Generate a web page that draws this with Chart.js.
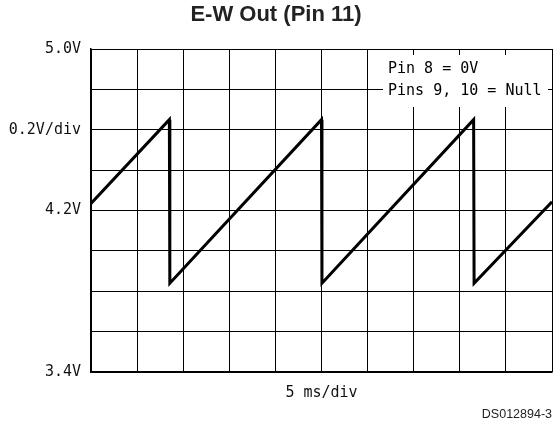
<!DOCTYPE html>
<html>
<head>
<meta charset="utf-8">
<script src="https://cdn.jsdelivr.net/npm/chart.js@4/dist/chart.umd.min.js"></script>
<style>
  html, body { margin: 0; padding: 0; background: #fff; }
  #wrap { width: 557px; height: 427px; }
</style>
</head>
<body>
<div id="wrap"><canvas id="myChart"></canvas></div>
<script>
// time in ms (5 ms/div), voltage in V (0.2 V/div)
var timeMs = [0, 8.5, 8.55, 25.0, 25.05, 41.5, 41.55, 50];
var volts  = [4.235, 4.65, 3.84, 4.65, 3.84, 4.65, 3.84, 4.243];

var yTickValues = [5.0, 4.6, 4.2, 3.4];
var yTickLabels = ['5.0V', '0.2V/div', '4.2V', '3.4V'];

var noteLines = ['Pin 8 = 0V', 'Pins 9, 10 = Null'];

var points = [];
for (var i = 0; i < timeMs.length; i++) {
    points.push({x: timeMs[i], y: volts[i]});
}

var scopeFont = "'DejaVu Sans Mono', monospace";

// white note box in the upper right of the grid
var notePlugin = {
    id: 'note',
    beforeDatasetsDraw: function(chart) {
        var ctx = chart.ctx;
        var a = chart.chartArea;
        ctx.save();
        ctx.fillStyle = '#fff';
        ctx.fillRect(a.right - 169, a.top + 6, 165, 52);
        ctx.fillStyle = '#000';
        ctx.font = '15px ' + scopeFont;
        ctx.textBaseline = 'middle';
        ctx.textAlign = 'left';
        ctx.fillText(noteLines[0], a.right - 164, a.top + 20);
        ctx.fillText(noteLines[1], a.right - 164, a.top + 42);
        ctx.restore();
    }
};

var config = {
    type: 'line',
    data: {
        datasets: [{
            data: points,
            borderColor: '#000',
            borderWidth: 3,
            pointRadius: 0,
            fill: false,
            tension: 0
        }]
    },
    options: {
        responsive: true,
        maintainAspectRatio: false,
        animation: false,
        events: [],
        layout: { padding: { left: 0, right: 5, top: 0, bottom: 0 } },
        plugins: {
            legend: { display: false },
            tooltip: { enabled: false },
            title: {
                display: true,
                text: 'E-W Out (Pin 11)',
                color: '#222',
                font: { family: "'Liberation Sans', Arial, sans-serif", size: 22, weight: 'bold' },
                padding: { top: 2, bottom: 20.6 }
            },
            subtitle: {
                display: true,
                position: 'bottom',
                align: 'end',
                text: 'DS012894-3',
                color: '#222',
                font: { family: "'Liberation Sans', Arial, sans-serif", size: 12.5 },
                padding: { top: 5.5, bottom: 4.5 }
            }
        },
        scales: {
            x: {
                type: 'linear',
                min: 0,
                max: 50,
                ticks: { display: false, stepSize: 5 },
                grid: { color: '#000', lineWidth: 1, drawTicks: false },
                border: { color: '#000', width: 1.5 },
                title: {
                    display: true,
                    text: '5 ms/div',
                    color: '#111',
                    font: { family: scopeFont, size: 15 },
                    padding: { top: 12, bottom: 0 }
                }
            },
            y: {
                type: 'linear',
                min: 3.4,
                max: 5.0,
                afterFit: function(scale) { scale.width = 91; },
                ticks: {
                    stepSize: 0.2,
                    padding: 10,
                    color: '#111',
                    font: { family: scopeFont, size: 15 },
                    autoSkip: false,
                    callback: function(v) {
                        for (var k = 0; k < yTickValues.length; k++) {
                            if (Math.abs(v - yTickValues[k]) < 0.001) return yTickLabels[k];
                        }
                        return '';
                    }
                },
                grid: { color: '#000', lineWidth: 1, drawTicks: false },
                border: { color: '#000', width: 1.5 }
            }
        }
    },
    plugins: [notePlugin]
};

var myChart = new Chart(document.getElementById('myChart'), config);
</script>
</body>
</html>
